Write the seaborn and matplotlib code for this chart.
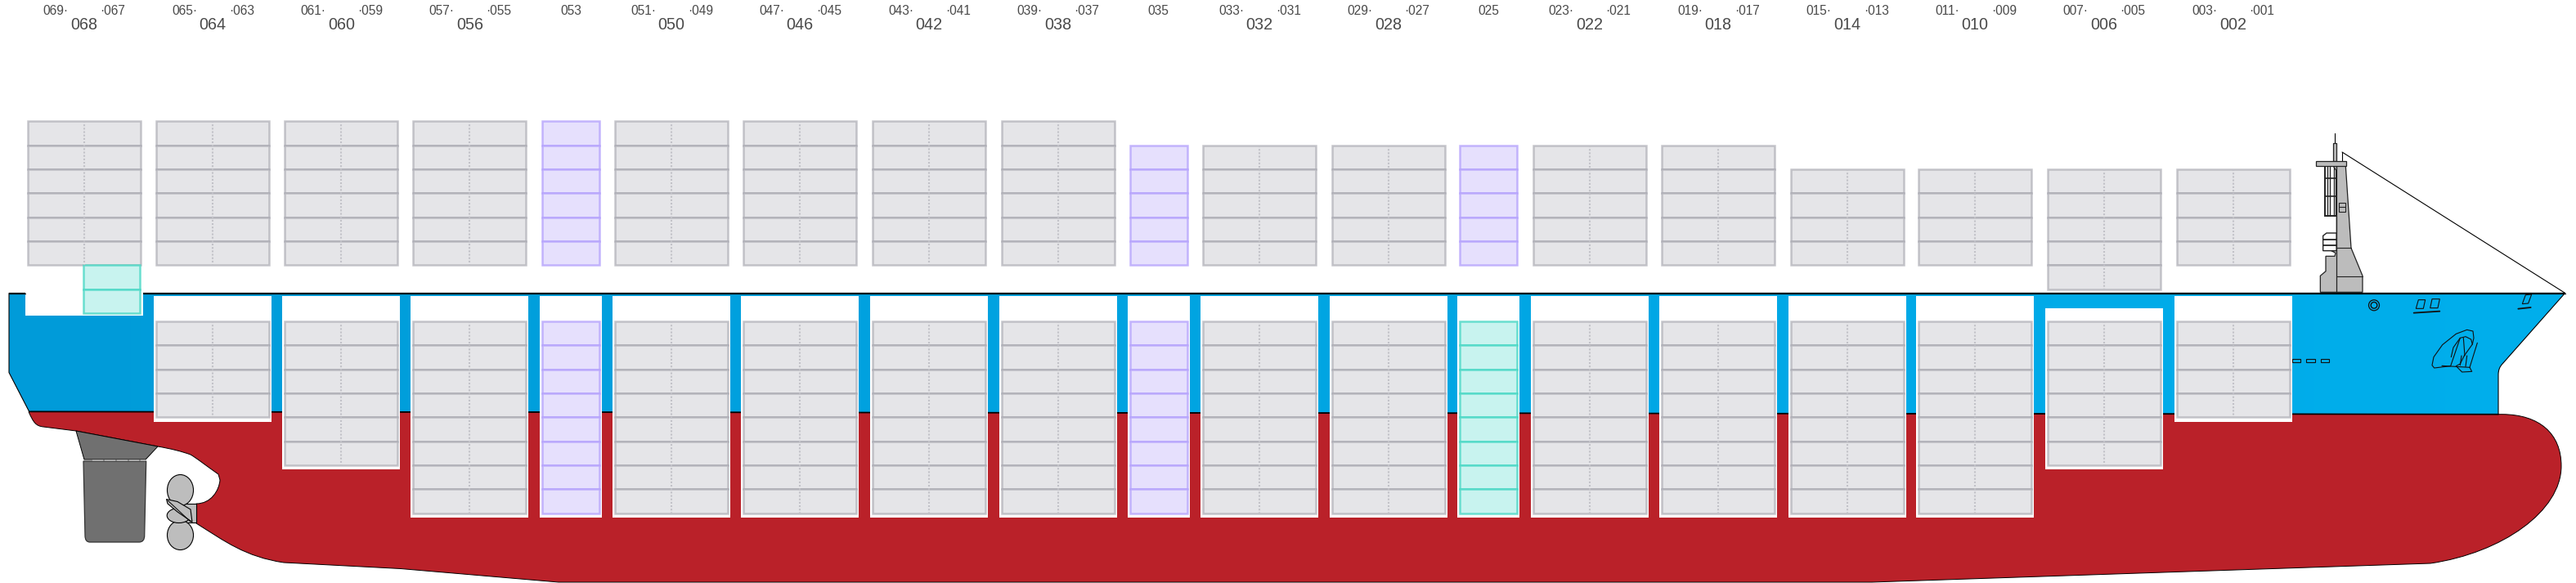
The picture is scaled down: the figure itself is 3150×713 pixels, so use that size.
import numpy as np
import matplotlib.pyplot as plt
import seaborn as sns
from matplotlib.patches import PathPatch, Polygon, Ellipse, Circle, Rectangle
from matplotlib.path import Path

# bays from stern to bow
bay_labels = ["068", "064", "060", "056", "053", "050", "046", "042", "038", "035",
              "032", "028", "025", "022", "018", "014", "010", "006", "002"]
left_labels = ["069", "065", "061", "057", "", "051", "047", "043", "039", "",
               "033", "029", "", "023", "019", "015", "011", "007", "003"]
right_labels = ["067", "063", "059", "055", "", "049", "045", "041", "037", "",
                "031", "027", "", "021", "017", "013", "009", "005", "001"]
bay_pos = [102.5, 260, 417.3, 574.3, 698, 820.8, 978, 1136, 1293.5, 1416.5,
           1540, 1697.5, 1820.4, 1943.5, 2101, 2258.7, 2415, 2572.5, 2730.5]
tiers_above = [6, 6, 6, 6, 6, 6, 6, 6, 6, 5, 5, 5, 5, 5, 5, 4, 4, 5, 4]
sunk_above = [0, 0, 0, 0, 0, 0, 0, 0, 0, 0, 0, 0, 0, 0, 0, 0, 0, 1, 0]
tiers_below = [0, 4, 6, 8, 8, 8, 8, 8, 8, 8, 8, 8, 8, 8, 8, 8, 8, 6, 4]
kind_above = ["g", "g", "g", "g", "p", "g", "g", "g", "g", "p",
              "g", "g", "p", "g", "g", "g", "g", "g", "g"]
kind_below = ["g", "g", "g", "g", "p", "g", "g", "g", "g", "p",
              "g", "g", "t", "g", "g", "g", "g", "g", "g"]
hold_tops = [0, 362, 362, 362, 362, 362, 362, 362, 362, 362,
             362, 362, 362, 362, 362, 362, 362, 376.5, 362]

COLORS = {
    "g": ("#e5e5e8", (0.60, 0.60, 0.64, 0.54)),
    "p": ("#e6e0fd", (0.69, 0.61, 0.99, 0.72)),
    "t": ("#c8f3ef", (0.25, 0.84, 0.76, 0.75)),
}
RED = "#ba2129"
TIER = 29.33
TOP_ABOVE = 324.4
TOP_BELOW = 393
TEXT = "#4a4a4a"

sns.set_theme(style="white")
plt.rcParams["font.family"] = ["Liberation Sans", "DejaVu Sans"]

fig = plt.figure(figsize=(31.5, 7.13), dpi=100)
ax = fig.add_axes([0, 0, 1, 1])


def bar(x, top, w, h, face, edge="none", lw=0, z=3):
    sns.barplot(x=[x], y=[h], bottom=top, width=w, native_scale=True, orient="x",
                color=face, saturation=1, edgecolor=edge, linewidth=lw,
                errorbar=None, zorder=z, ax=ax)


def stack(x, top, n, w, kind):
    face, edge = COLORS[kind]
    for i in range(n):
        bar(x, top + i * TIER, w, TIER, face, edge, 1.8, 5)


# hull
blue_path = Path(
    [(11, 358.5), (11, 455.6), (35.7, 503.4), (3055, 506.7), (3055, 458),
     (3055, 450), (3060, 445), (3136.6, 358.4), (11, 358.5)],
    [Path.MOVETO, Path.LINETO, Path.LINETO, Path.LINETO, Path.LINETO,
     Path.CURVE3, Path.CURVE3, Path.LINETO, Path.CLOSEPOLY])
blue_patch = PathPatch(blue_path, fc="none", ec="none", zorder=1)
ax.add_patch(blue_patch)
cmap = sns.blend_palette(["#009bd9", "#00afec"], as_cmap=True)
im = ax.imshow(np.linspace(0, 1, 256).reshape(1, -1), cmap=cmap, aspect="auto",
               extent=(0, 3150, 713, 0), zorder=1)
im.set_clip_path(blue_patch)
ax.add_patch(PathPatch(blue_path, fc="none", ec="black", lw=0.8, zorder=2))

L, C3, C4 = Path.LINETO, Path.CURVE3, Path.CURVE4
red_pts = [((35, 503.5), Path.MOVETO), ((3060, 506.7), L),
           ((3105, 507), C4), ((3132, 530), C4), ((3132, 570), C4),
           ((3132, 625), C4), ((3060, 676), C4), ((2972, 689), C4),
           ((2289, 712), L), ((683, 712), L), ((490, 695.5), L), ((347, 688), L),
           ((300, 681), C4), ((275, 662), C4), ((240, 640), C4),
           ((240, 616), L),
           ((258, 616), C4), ((268, 600), C4), ((269, 587), C4),
           ((267, 580), L),
           ((250, 568), C4), ((240, 560), C4), ((233, 556), C4),
           ((222, 552), C4), ((210, 549), C4), ((193, 546), C4),
           ((93, 527), L), ((53, 522), L),
           ((44, 521), C4), ((41, 517), C4), ((35, 503.5), C4)]
ax.add_patch(PathPatch(Path([p for p, _ in red_pts], [c for _, c in red_pts]),
                       fc=RED, ec="black", lw=0.7, zorder=2))
ax.plot([35.7, 3055], [503.4, 506.7], color="black", lw=1.2, zorder=2.5)

# notch at the stern and holds
bar(102.5, 340, 144, 46, "white", z=2.8)
ax.plot([11, 30.6], [358.5, 358.5], color="black", lw=0.9, zorder=2.9)
ax.plot([174.5, 3136.6], [358.5, 358.5], color="black", lw=0.9, zorder=2.9)

for i, pos in enumerate(bay_pos):
    w = 138 if left_labels[i] else 70
    top = 148.4 + (6 - tiers_above[i] + sunk_above[i]) * TIER
    stack(pos, top, tiers_above[i], w, kind_above[i])
    if tiers_below[i]:
        bottom = TOP_BELOW + tiers_below[i] * TIER + 5.5
        bar(pos, hold_tops[i], w + 6, bottom - hold_tops[i], "white", z=3)
        stack(pos, TOP_BELOW, tiers_below[i], w, kind_below[i])
    if left_labels[i]:
        ax.vlines(pos, top, top + tiers_above[i] * TIER, color="#c2c2c8",
                  lw=1.5, linestyles=(0, (1, 1)), zorder=6)
        if tiers_below[i]:
            ax.vlines(pos, TOP_BELOW, TOP_BELOW + tiers_below[i] * TIER, color="#c2c2c8",
                      lw=1.5, linestyles=(0, (1, 1)), zorder=6)
        ax.text(pos, 31, bay_labels[i], ha="center", va="center", fontsize=14.2, color=TEXT)
        ax.text(pos - 19, 13.5, left_labels[i] + "·", ha="right", va="center", fontsize=11.2, color=TEXT)
        ax.text(pos + 20, 13.5, "·" + right_labels[i], ha="left", va="center", fontsize=11.2, color=TEXT)
    else:
        ax.text(pos, 13.5, bay_labels[i], ha="center", va="center", fontsize=11.2, color=TEXT)

# the two extra cells under the aft half of bay 068
stack(136.8, TOP_ABOVE, 2, 69, "t")

# rudder
ax.add_patch(Polygon([(93, 527), (193, 546), (178, 562), (103, 562)], fc="#707070", ec="black", lw=0.7, zorder=2.2))
rudder = Path([(102, 564), (178.7, 564), (176.7, 655), (176.7, 663), (170, 663), (110, 663),
               (104, 663), (104, 655), (102, 564)],
              [Path.MOVETO, L, L, C3, C3, L, C3, C3, Path.CLOSEPOLY])
ax.add_patch(PathPatch(rudder, fc="#707070", ec="#333333", lw=0.9, zorder=2.2))
ax.hlines([562.5] * 5, [113, 128, 143, 158, 172], [126, 141, 156, 170, 178], color="#b0b0b0", lw=1.2, zorder=2.3)

# propeller
ax.add_patch(Rectangle((220, 616), 19.5, 23, fc="#bdbdbd", ec="black", lw=0.8, zorder=2.3))
ax.add_patch(Ellipse((220.5, 599.5), 32, 38, fc="#bdbdbd", ec="black", lw=0.8, zorder=2.4))
ax.add_patch(Ellipse((220.5, 654.5), 32, 36, fc="#bdbdbd", ec="black", lw=0.8, zorder=2.4))
ax.add_patch(Ellipse((218.7, 630.5), 29, 18, fc="#bdbdbd", ec="black", lw=0.8, zorder=2.45))
ax.add_patch(Polygon([(203.5, 610.5), (217, 613.5), (233, 623), (235, 638.5), (217, 626), (205, 616)],
                     fc="#bdbdbd", ec="black", lw=0.8, zorder=2.5))
ax.plot([205, 233], [612, 638], color="black", lw=0.7, zorder=2.6)


# superstructure, points read at 3x from the crop starting at 2780,150
def sup(pts):
    return [(2780 + x / 3, 150 + y / 3) for x, y in pts]


GRAY = "#bcbcbc"
ax.plot(*zip(*sup([(252, 142), (252, 108)])), color="black", lw=0.8, zorder=2)
ax.plot([2864, 3136.6], [186, 358.4], color="black", lw=0.8, zorder=2)
ax.plot(*zip(*sup([(226, 40), (226, 75)])), color="black", lw=0.8, zorder=2)
ax.add_patch(Polygon(sup([(220, 75), (232, 75), (232, 142), (220, 142)]), fc=GRAY, ec="#222222", lw=0.9, zorder=2))
ax.add_patch(Polygon(sup([(188, 160), (232, 160), (232, 342), (188, 342)]), fc="white", ec="#222222", lw=1.4, zorder=2))
for xv in (198, 208, 222):
    ax.plot(*zip(*sup([(xv, 160), (xv, 342)])), color="#222222", lw=1.0, zorder=2.1)
for yh in (205, 270):
    ax.plot(*zip(*sup([(188, yh), (232, yh)])), color="#222222", lw=1.2, zorder=2.1)
ax.add_patch(Polygon(sup([(232, 405), (195, 405), (182, 415), (182, 470), (232, 470)]), fc="white", ec="#222222", lw=1.0, zorder=2))
for yh in (428, 450):
    ax.plot(*zip(*sup([(182, yh), (232, yh)])), color="#222222", lw=1.3, zorder=2.1)
ax.add_patch(Polygon(sup([(172, 622), (172, 562), (192, 545), (192, 490), (225, 490), (228, 478), (212, 470),
                          (232, 470), (232, 178), (220, 160), (265, 160), (285, 460), (327, 562), (327, 622)]),
                     fc=GRAY, ec="#222222", lw=0.9, zorder=2.2))
ax.add_patch(Polygon(sup([(155, 142), (268, 142), (268, 160), (155, 160)]), fc=GRAY, ec="#222222", lw=0.9, zorder=2.3))
ax.plot(*zip(*sup([(232, 160), (232, 622)])), color="#222222", lw=0.9, zorder=2.4)
ax.plot(*zip(*sup([(232, 458), (285, 458)])), color="#222222", lw=0.8, zorder=2.4)
ax.plot(*zip(*sup([(232, 565), (327, 565)])), color="#222222", lw=0.8, zorder=2.4)
ax.add_patch(Polygon(sup([(240, 295), (265, 295), (265, 328), (240, 328)]), fc=GRAY, ec="#222222", lw=0.8, zorder=2.4))
ax.plot(*zip(*sup([(240, 310), (265, 310)])), color="#222222", lw=0.8, zorder=2.5)


# bow fittings, points read at 3x from the crop starting at 2900,350
def bow(pts):
    return [(2900 + x / 3, 350 + y / 3) for x, y in pts]


ax.add_patch(Circle((2903, 373.3), 6.5, fc="none", ec="#111111", lw=0.9, zorder=2.5))
ax.add_patch(Circle((2903, 373.3), 3.8, fc="none", ec="#111111", lw=1.0, zorder=2.5))
for pts in ([(163, 82), (172, 50), (197, 50), (190, 82)],
            [(215, 80), (222, 47), (250, 47), (243, 80)],
            [(553, 65), (565, 32), (587, 30), (575, 63)]):
    ax.add_patch(Polygon(bow(pts), fc="none", ec="#111111", lw=0.8, zorder=2.5))
for pts in ([(155, 98), (250, 92)], [(538, 83), (584, 78)]):
    ax.plot(*zip(*bow(pts)), color="#111111", lw=1.3, zorder=2.5)
for x0, x1 in ((2803.4, 2813), (2820, 2831), (2837.5, 2847.6)):
    ax.add_patch(Rectangle((x0, 438.5), x1 - x0, 4.5, fc="#00aeea", ec="#111111", lw=0.8, zorder=2.5))
anchor = [
    [(290, 293), (230, 300), (222, 290), (228, 260), (260, 215), (310, 175), (350, 160), (372, 165), (375, 190), (370, 213)],
    [(290, 293), (325, 190)], [(258, 292), (360, 298)],
    [(292, 260), (300, 225), (325, 190), (345, 185), (365, 195), (370, 213)],
    [(337, 190), (342, 255)], [(388, 208), (360, 298)], [(370, 213), (340, 255)],
    [(340, 255), (325, 285), (310, 293), (332, 315), (368, 313), (360, 298)],
    [(330, 255), (325, 290)], [(350, 255), (345, 295)],
]
for pts in anchor:
    ax.plot(*zip(*bow(pts)), color="#111111", lw=0.8, zorder=2.5)

ax.set_xlim(0, 3150)
ax.set_ylim(713, 0)
sns.despine(ax=ax, left=True, bottom=True)
ax.set_axis_off()
fig.savefig("out.png", dpi=100)
